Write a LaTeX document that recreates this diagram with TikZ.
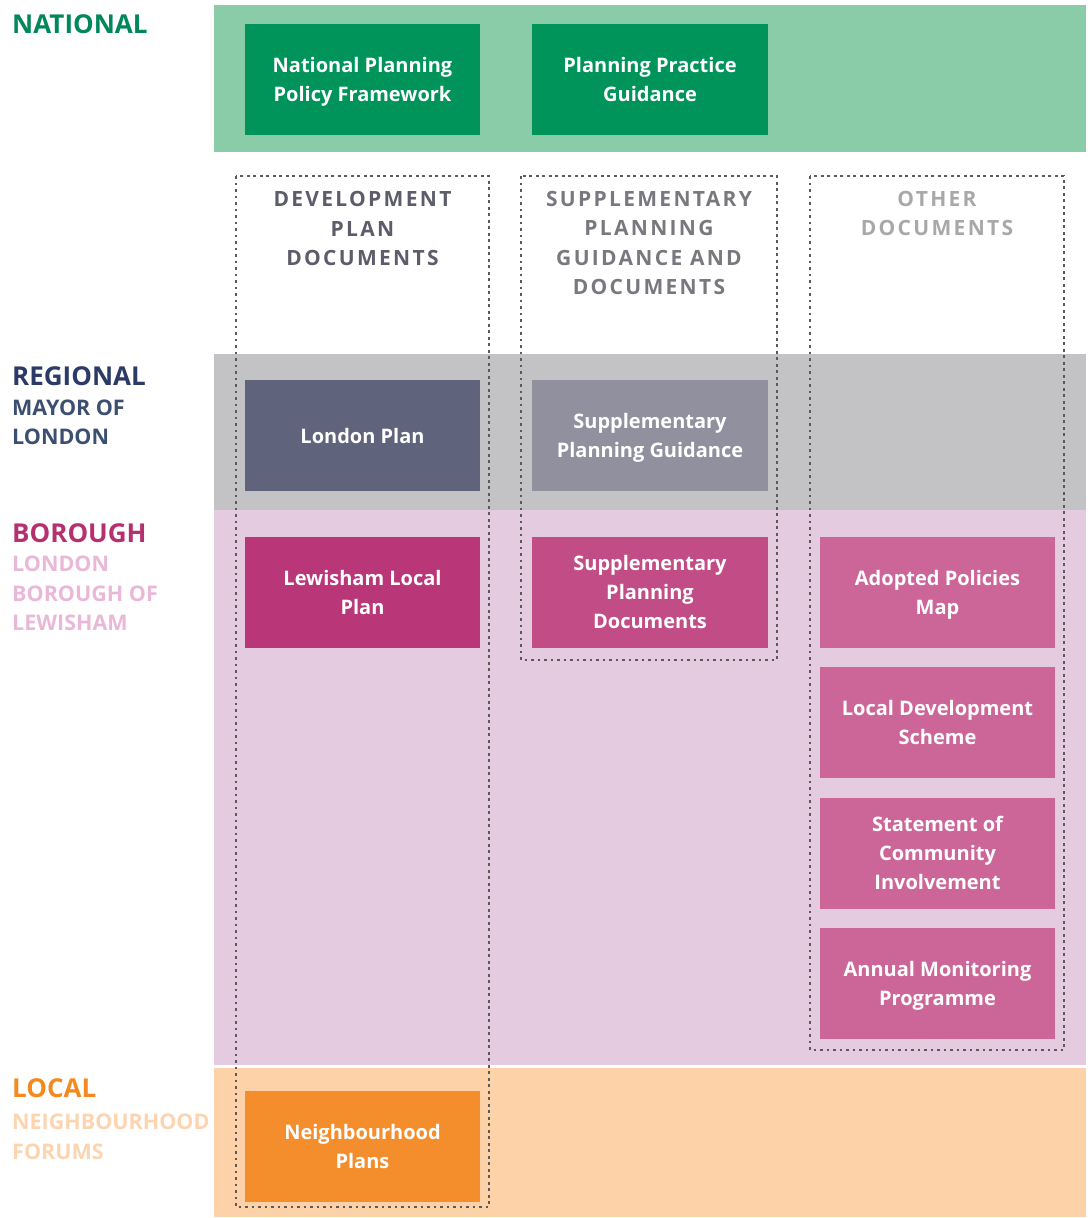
\documentclass[tikz,border=0pt]{standalone}
\usepackage{fontspec}
\setmainfont{Open Sans}
\newfontfamily\spc[LetterSpace=11]{Open Sans}
\definecolor{natband}{HTML}{8ACCA7}
\definecolor{natbox}{HTML}{00945A}
\definecolor{regband}{HTML}{C3C3C5}
\definecolor{lonbox}{HTML}{5F637B}
\definecolor{spgbox}{HTML}{90909E}
\definecolor{borband}{HTML}{E5CBDF}
\definecolor{llpbox}{HTML}{B93778}
\definecolor{spdbox}{HTML}{C24D86}
\definecolor{othbox}{HTML}{CC6698}
\definecolor{locband}{HTML}{FDD2A9}
\definecolor{nbhbox}{HTML}{F48E2D}
\definecolor{dotc}{HTML}{5A5A5A}
\definecolor{natlab}{HTML}{00875A}
\definecolor{reglab}{HTML}{2B3A67}
\definecolor{regsub}{HTML}{3D4F70}
\definecolor{borlab}{HTML}{B5306F}
\definecolor{borsub}{HTML}{E9B8D8}
\definecolor{loclab}{HTML}{F4891F}
\definecolor{locsub}{HTML}{FDD4B0}
\definecolor{headA}{HTML}{5C5C6A}
\definecolor{headB}{HTML}{78787F}
\definecolor{headC}{HTML}{A8A8A8}
\begin{document}
\begin{tikzpicture}[x=1pt,y=-1pt,
  box/.style={minimum width=235pt, minimum height=111pt, inner sep=0pt, align=center,
    text depth=0pt, text=white, font=\fontsize{20}{29}\selectfont\bfseries},
  dotrect/.style={draw=dotc, line width=2.8pt, dash pattern=on 2.8pt off 3.7pt},
  lvl/.style={anchor=west, inner sep=0pt, font=\fontsize{26}{29}\selectfont\bfseries},
  sublvl/.style={anchor=west, inner sep=0pt, align=left, font=\fontsize{21.5}{29.5}\selectfont\bfseries},
  head/.style={inner sep=0pt, align=center, font=\spc\fontsize{21}{29.5}\selectfont\bfseries}]
\useasboundingbox (0,0) rectangle (1092,1218);
% bands
\fill[natband] (214,5) rectangle (1086,152);
\fill[regband] (214,354) rectangle (1086,510);
\fill[borband] (214,510) rectangle (1086,1065);
\fill[locband] (214,1068) rectangle (1086,1217);
% dotted columns
\draw[dotrect] (236,176) rectangle (489,1207);
\draw[dotrect] (521,176) rectangle (777,660);
\draw[dotrect] (810,176) rectangle (1064,1050);
% level labels
\node[lvl, text=natlab] (lnat) at (12,24.5) {NATIONAL};
\node[lvl, text=reglab] (lreg) at (12,376.5) {REGIONAL};
\node[sublvl, text=regsub] (lregs) at (12,422.5) {MAYOR OF\\LONDON};
\node[lvl, text=borlab] (lbor) at (12,533) {BOROUGH};
\node[sublvl, text=borsub] (lbors) at (12,593.5) {LONDON\\BOROUGH OF\\LEWISHAM};
\node[lvl, text=loclab] (lloc) at (12,1088) {LOCAL};
\node[sublvl, text=locsub] (llocs) at (12,1137) {NEIGHBOURHOOD\\FORUMS};
% column headings
\node[head, text=headA] (hdev) at (362.5,228.5) {DEVELOPMENT\\PLAN\\DOCUMENTS};
\node[head, text=headB] (hsup) at (649,243) {SUPPLEMENTARY\\PLANNING\\GUIDANCE AND\\DOCUMENTS};
\node[head, text=headC] (hoth) at (937,213.5) {OTHER\\DOCUMENTS};
% boxes
\node[box, fill=natbox] (nppf) at (362.5,79.5) {National Planning\\Policy Framework};
\node[box, fill=natbox, minimum width=236pt] (ppg) at (650,79.5) {Planning Practice\\Guidance};
\node[box, fill=lonbox] (lp) at (362.5,435.5) {London Plan};
\node[box, fill=spgbox, minimum width=236pt] (spg) at (650,435.5) {Supplementary\\Planning Guidance};
\node[box, fill=llpbox] (llp) at (362.5,592) {Lewisham Local\\Plan};
\node[box, fill=spdbox, minimum width=236pt] (spd) at (650,592) {Supplementary\\Planning\\Documents};
\node[box, fill=othbox] (apm) at (937.5,592) {Adopted Policies\\Map};
\node[box, fill=othbox] (lds) at (937.5,722.5) {Local Development\\Scheme};
\node[box, fill=othbox] (sci) at (937.5,853) {Statement of\\Community\\Involvement};
\node[box, fill=othbox] (amp) at (937.5,983.5) {Annual Monitoring\\Programme};
\node[box, fill=nbhbox] (nbp) at (362.5,1146.5) {Neighbourhood\\Plans};
\end{tikzpicture}
\end{document}
